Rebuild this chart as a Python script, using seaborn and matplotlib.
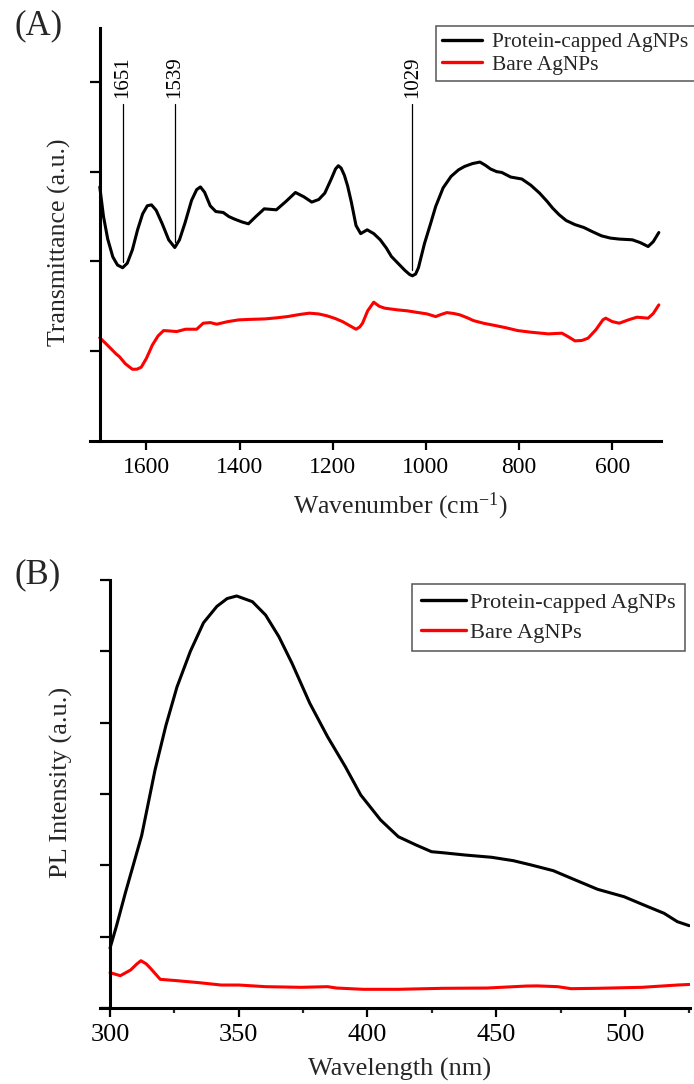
import numpy as np
import pandas as pd
import matplotlib
matplotlib.use("Agg")
import matplotlib.pyplot as plt
from matplotlib.lines import Line2D
import seaborn as sns

# ---------------- FTIR spectra (A) ----------------
ftir_capped_wn = [1700, 1692, 1683, 1672, 1662, 1651, 1641, 1630, 1619, 1608, 1598, 1589,
                  1579, 1566, 1552, 1539, 1529, 1517, 1503, 1492, 1484, 1475, 1463, 1451,
                  1435, 1423, 1411, 1395, 1381, 1365, 1347, 1333, 1321, 1300, 1280, 1262,
                  1245, 1230, 1217, 1203, 1194, 1188, 1182, 1175, 1168, 1160, 1150, 1140, 1126,
                  1112, 1098, 1085, 1074, 1060, 1045, 1035, 1029, 1022, 1016, 1003, 990, 979,
                  963, 946, 930, 917, 900, 884, 872, 861, 848, 837, 818, 794, 775, 756, 740,
                  728, 714, 699, 680, 661, 642, 623, 604, 585, 557, 540, 523, 512, 500]
ftir_capped_t = [2.83, 2.50, 2.25, 2.05, 1.96, 1.93, 1.98, 2.13, 2.35, 2.53, 2.62, 2.63,
                 2.57, 2.42, 2.24, 2.155, 2.24, 2.43, 2.68, 2.80, 2.83, 2.77, 2.62, 2.556,
                 2.545, 2.50, 2.472, 2.44, 2.419, 2.50, 2.586, 2.58, 2.575, 2.67, 2.768, 2.72,
                 2.661, 2.69, 2.761, 2.92, 3.03, 3.066, 3.04, 2.96, 2.84, 2.66, 2.40, 2.31, 2.352,
                 2.31, 2.241, 2.15, 2.055, 1.98, 1.90, 1.855, 1.84, 1.86, 1.93, 2.20, 2.42, 2.612,
                 2.82, 2.947, 3.02, 3.058, 3.09, 3.107, 3.07, 3.029, 3.00, 2.991, 2.940, 2.918,
                 2.85, 2.761, 2.67, 2.594, 2.52, 2.456, 2.41, 2.378, 2.33, 2.285, 2.26, 2.249,
                 2.241, 2.21, 2.166, 2.22, 2.322]

ftir_bare_wn = [1700, 1688, 1677, 1665, 1658, 1645, 1630, 1620, 1611, 1600, 1587, 1575, 1563,
                1549, 1535, 1516, 1492, 1478, 1463, 1449, 1425, 1402, 1375, 1345, 1320, 1297,
                1270, 1250, 1230, 1212, 1195, 1179, 1162, 1150, 1142, 1136, 1125, 1112, 1100,
                1088, 1060, 1040, 1022, 998, 979, 967, 955, 940, 927, 910, 898, 875, 851, 827,
                803, 775, 737, 708, 694, 680, 665, 652, 635, 620, 614, 600, 585, 565, 547, 523,
                512, 500]
ftir_bare_t = [1.15, 1.09, 1.033, 0.97, 0.94, 0.86, 0.799, 0.80, 0.822, 0.92, 1.070, 1.17, 1.230,
               1.225, 1.219, 1.245, 1.245, 1.312, 1.319, 1.301, 1.33, 1.349, 1.355, 1.360, 1.372,
               1.386, 1.41, 1.424, 1.415, 1.394, 1.365, 1.330, 1.28, 1.245, 1.27, 1.312, 1.45,
               1.546, 1.50, 1.479, 1.460, 1.45, 1.435, 1.416, 1.386, 1.41, 1.430, 1.42, 1.405,
               1.37, 1.341, 1.31, 1.286, 1.26, 1.230, 1.212, 1.193, 1.201, 1.16, 1.115, 1.12,
               1.145, 1.24, 1.35, 1.368, 1.33, 1.312, 1.35, 1.379, 1.368, 1.42, 1.516]

peak_marks = [1651, 1539, 1029]
ftir_xticks = [1600, 1400, 1200, 1000, 800, 600]

# ---------------- PL spectra (B) ----------------
pl_capped_wl = [300, 302.5, 306, 309, 312.3, 317.5, 321.7, 326.0, 331.2, 336.3, 341.5, 345.5,
                349.2, 355.3, 360.4, 365.6, 370.7, 377.6, 384.5, 391.4, 397.4, 405.1, 412.0,
                418.9, 424.9, 429.2, 437.8, 448.2, 456.7, 463.6, 472.2, 480.8, 489.4, 499.7,
                508.3, 515.2, 520.4, 525]
pl_capped_i = [0.84, 1.15, 1.62, 2.00, 2.42, 3.34, 3.96, 4.50, 5.00, 5.40, 5.63, 5.74,
               5.776, 5.696, 5.51, 5.205, 4.832, 4.272, 3.803, 3.383, 2.986, 2.636, 2.401,
               2.285, 2.191, 2.177, 2.145, 2.113, 2.065, 2.005, 1.925, 1.794, 1.664, 1.560,
               1.430, 1.328, 1.210, 1.154]

pl_bare_wl = [300, 304, 308, 310.5, 312, 314, 315.7, 319.5, 326, 334.6, 343.2, 350.1, 360.4,
              374.2, 384.5, 388, 398.3, 412, 429.2, 446.4, 461.9, 466, 473.9, 479.1, 489.4,
              506.6, 520.4, 525]
pl_bare_i = [0.495, 0.453, 0.533, 0.62, 0.663, 0.62, 0.557, 0.402, 0.383, 0.355, 0.322, 0.322,
             0.299, 0.290, 0.299, 0.280, 0.262, 0.262, 0.276, 0.280, 0.308, 0.31, 0.299, 0.271,
             0.276, 0.290, 0.322, 0.33]

series_names = ["Protein-capped AgNPs", "Bare AgNPs"]
series_colors = ["black", "red"]

# ---------------- style ----------------
sns.set_style("ticks")
plt.rcParams["font.family"] = ["Liberation Serif", "DejaVu Serif"]
plt.rcParams["mathtext.fontset"] = "custom"
plt.rcParams["mathtext.rm"] = "Liberation Serif"
plt.rcParams["mathtext.it"] = "Liberation Serif:italic"
plt.rcParams["axes.linewidth"] = 2.2

W, H = 694, 1084
fig = plt.figure(figsize=(W / 100, H / 100), dpi=100)
palette = dict(zip(series_names, series_colors))


def style_axes(ax, tick_size):
    sns.despine(ax=ax)
    ax.tick_params(axis="both", which="major", direction="out", width=1.6,
                   labelsize=tick_size, colors="black")
    ax.tick_params(axis="y", which="major", length=7.2)
    ax.tick_params(axis="x", which="major", length=6.5, pad=5)
    ax.tick_params(axis="x", which="minor", direction="out", length=3.6, width=1.6)
    ax.set_yticklabels([])
    for s in ("left", "bottom"):
        ax.spines[s].set_color("black")


def add_legend(ax, anchor, fontsize, handlelength, handletextpad, borderpad, labelspacing):
    handles = [Line2D([], [], color=c, lw=2.4) for c in series_colors]
    leg = ax.legend(handles, series_names, loc="upper left",
                    bbox_to_anchor=anchor, bbox_transform=fig.transFigure,
                    borderaxespad=0, frameon=True, fancybox=False,
                    fontsize=fontsize, handlelength=handlelength,
                    handletextpad=handletextpad, borderpad=borderpad,
                    labelspacing=labelspacing)
    leg.get_frame().set_edgecolor("#555555")
    leg.get_frame().set_linewidth(1.1)
    leg.get_frame().set_alpha(1)
    return leg


# ---------------- panel A: FTIR ----------------
ax1 = fig.add_axes([90 / W, 1 - 441 / H, 570.7 / W, 413 / H])
ftir = pd.concat([
    pd.DataFrame({"wn": ftir_capped_wn, "t": ftir_capped_t, "sample": series_names[0]}),
    pd.DataFrame({"wn": ftir_bare_wn, "t": ftir_bare_t, "sample": series_names[1]}),
])
sns.lineplot(data=ftir, x="wn", y="t", hue="sample", palette=palette, sort=False,
             estimator=None, legend=False, lw=2.2, ax=ax1)
ax1.set_xlim(1721, 496)
ax1.set_ylim(0, 4.6)
ax1.spines["left"].set_position(("data", 1700))
ax1.set_xticks(ftir_xticks)
ax1.set_yticks([1, 2, 3, 4])
style_axes(ax1, 17)
ax1.set_xlabel("Wavenumber (cm$^{-1}$)", fontsize=18.5)
ax1.xaxis.set_label_coords((400 - 90) / 570.7, (441 - 491) / 413)
ax1.xaxis.label.set_va("top")
ax1.set_ylabel("Transmittance (a.u.)", fontsize=18.5)
ax1.yaxis.set_label_coords((71 - 90) / 570.7, (441 - 242) / 413)

# peak markers drawn from the labelled wavenumbers
wn_sorted = np.array(ftir_capped_wn[::-1], dtype=float)
t_sorted = np.array(ftir_capped_t[::-1], dtype=float)
line_top = 3.757
for wn in peak_marks:
    t0 = float(np.interp(wn, wn_sorted, t_sorted)) + 0.06
    ax1.plot([wn, wn], [t0, line_top], color="black", lw=0.9)
    ax1.text(wn, line_top + 0.06, str(wn), rotation=90, ha="center", va="bottom",
             fontsize=15, color="black")

add_legend(ax1, (436 / W, 1 - 25.7 / H), 15.5, 1.85, 0.47, 0.3, 0.11)
fig.text(14 / W, 1 - 9 / H, "(A)", ha="left", va="top", fontsize=25)

# ---------------- panel B: PL ----------------
ax2 = fig.add_axes([100 / W, 1 - 1008 / H, 590 / W, 428 / H])
pl = pd.concat([
    pd.DataFrame({"wl": pl_capped_wl, "i": pl_capped_i, "sample": series_names[0]}),
    pd.DataFrame({"wl": pl_bare_wl, "i": pl_bare_i, "sample": series_names[1]}),
])
sns.lineplot(data=pl, x="wl", y="i", hue="sample", palette=palette, sort=False,
             estimator=None, legend=False, lw=2.2, ax=ax2)
ax2.set_xlim(296.1, 525.3)
ax2.set_ylim(0, 6)
ax2.spines["left"].set_position(("data", 300))
ax2.set_xticks([300, 350, 400, 450, 500])
ax2.set_xticks([325, 375, 425, 475, 525], minor=True)
ax2.set_yticks(range(7))
style_axes(ax2, 19)
ax2.set_xlabel("Wavelength (nm)", fontsize=19)
ax2.xaxis.set_label_coords((400 - 100) / 590, (1008 - 1058) / 428)
ax2.xaxis.label.set_va("top")
ax2.set_ylabel("PL Intensity (a.u.)", fontsize=19)
ax2.yaxis.set_label_coords((73 - 100) / 590, (1008 - 782) / 428)

add_legend(ax2, (412 / W, 1 - 584 / H), 16.2, 2.0, 0.22, 0.38, 0.38)
fig.text(14 / W, 1 - 558 / H, "(B)", ha="left", va="top", fontsize=25)

fig.savefig("out.png", dpi=100)
